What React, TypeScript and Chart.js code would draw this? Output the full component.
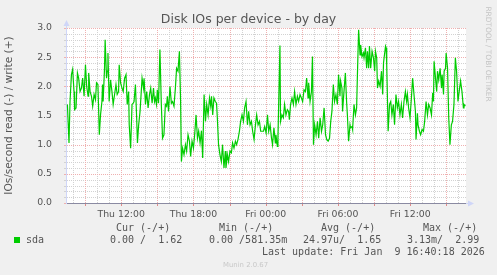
import React, { useEffect, useRef } from 'react';
import { Chart, registerables } from 'chart.js';

Chart.register(...registerables);

// Sample times: minutes since Thu 00:00 (Fri = 1440+)
const sampleMinutes = [
  452, 460, 465, 472, 478, 485, 488, 495, 502, 508, 515, 522, 528, 535, 542, 548, 555, 558, 565, 572,
  578, 585, 592, 597, 604, 611, 617, 624, 627, 630, 637, 640, 647, 650, 654, 660, 667, 674, 680, 687,
  694, 700, 707, 710, 717, 724, 730, 737, 744, 750, 757, 760, 767, 774, 780,
  784, 791, 797, 801, 807, 814, 824, 831, 834, 841, 847, 854, 861, 867, 874, 881, 886, 890, 896, 900,
  906, 913, 920, 926, 933, 940, 946, 950, 956, 963, 970, 976, 983, 990, 996, 1003, 1010, 1016, 1020, 1026,
  1033, 1040, 1046, 1053, 1060, 1066, 1073, 1080, 1086, 1093, 1100, 1106, 1113, 1120, 1126,
  1133, 1140, 1146, 1153, 1160, 1166, 1170, 1176, 1182, 1189, 1195, 1199, 1205, 1212, 1219, 1225, 1232, 1239, 1242, 1249,
  1255, 1262, 1269, 1275, 1282, 1289, 1295, 1302, 1309, 1315, 1322, 1329, 1335, 1342, 1349, 1355, 1362, 1369, 1375, 1382,
  1389, 1395, 1402, 1409, 1415, 1422, 1429, 1435, 1442, 1449, 1455, 1462, 1469, 1474, 1481,
  1488, 1491, 1498, 1501, 1511, 1514, 1521, 1528, 1534, 1541, 1548, 1554, 1558, 1564, 1571, 1578, 1584, 1591, 1598, 1604,
  1611, 1618, 1624, 1631, 1638, 1644, 1651, 1654, 1661, 1668, 1673, 1678, 1684, 1691, 1698, 1704, 1711, 1718, 1724, 1731,
  1738, 1744, 1751, 1758, 1764, 1770, 1777, 1783, 1790, 1797, 1803, 1810, 1813, 1820, 1823, 1830,
  1837, 1843, 1847, 1853, 1860, 1863, 1870, 1873, 1880, 1887, 1893, 1897, 1903, 1910, 1913, 1920, 1927, 1930, 1937, 1943,
  1947, 1953, 1957, 1963, 1970, 1977, 1983, 1987, 1993, 1997, 2003, 2010, 2017, 2023, 2027, 2030, 2037, 2040, 2043, 2050,
  2057, 2063, 2069, 2076, 2082, 2089, 2096, 2102, 2109, 2116, 2122, 2129, 2136, 2142, 2146, 2152, 2159, 2166, 2172,
  2186, 2189, 2196, 2199, 2206, 2212, 2219, 2226, 2232, 2239, 2246, 2252, 2259, 2266, 2272, 2276, 2279, 2286, 2292, 2296,
  2302, 2309, 2316, 2319, 2326, 2329, 2336, 2339, 2346, 2352, 2358, 2365, 2371, 2378, 2385, 2391, 2398, 2405, 2411, 2418,
  2425, 2428, 2435,
];

// sda write IOs/second
const writeIops = [
  1.69, 1.03, 1.74, 2.20, 2.29, 1.91, 1.60, 1.63, 2.23, 2.14, 1.91, 1.97, 2.14, 1.83, 2.37, 2.00, 1.83, 2.23, 1.91, 1.83,
  1.66, 1.86, 1.77, 2.06, 2.03, 1.17, 1.51, 1.74, 2.03, 1.74, 2.31, 2.80, 2.14, 2.26, 2.57, 1.74, 2.11, 1.91, 1.69, 1.86,
  2.03, 1.86, 1.91, 2.37, 2.06, 1.97, 1.91, 2.14, 2.20, 1.69, 1.91, 1.34, 0.94, 1.69, 1.71,
  1.74, 2.03, 1.46, 1.03, 1.34, 1.57, 2.14, 1.97, 2.14, 1.69, 1.91, 1.63, 1.86, 1.97, 1.71, 1.97, 1.74, 1.80, 1.69, 1.94,
  1.71, 2.63, 1.69, 1.11, 1.17, 1.69, 1.66, 1.83, 1.57, 2.00, 1.71, 1.74, 1.66, 1.97, 2.31, 2.26, 2.60, 1.74, 0.71, 0.94,
  0.83, 1.00, 0.89, 1.17, 1.06, 0.80, 1.06, 0.94, 1.17, 1.51, 1.11, 1.23, 1.03, 1.24, 0.77,
  1.86, 1.40, 1.69, 1.51, 1.80, 1.66, 1.83, 1.51, 1.80, 1.74, 1.71, 1.46, 1.00, 0.83, 0.71, 1.00, 0.60, 0.89, 0.60, 0.83,
  0.71, 0.89, 0.86, 1.03, 0.94, 1.06, 1.00, 1.09, 1.23, 1.40, 1.51, 1.40, 1.63, 1.74, 1.34, 1.57, 1.34, 1.40, 1.23, 1.09,
  1.34, 1.51, 1.34, 1.40, 1.23, 1.23, 1.23, 1.31, 1.20, 1.51, 1.23, 1.34, 1.11, 1.00, 1.29,
  1.03, 1.17, 0.97, 1.11, 2.70, 1.40, 1.51, 1.46, 1.69, 1.51, 1.60, 1.57, 1.43, 1.69, 1.80, 1.69, 1.91, 1.69, 1.83, 1.74,
  1.86, 1.80, 1.74, 1.94, 1.91, 2.14, 1.80, 2.06, 1.74, 1.91, 2.51, 1.00, 1.34, 1.17, 1.40, 1.11, 1.46, 1.23, 1.34, 1.63,
  1.17, 1.09, 1.06, 1.11, 1.40, 1.57, 2.03, 1.74, 1.86, 1.69, 2.20, 1.83, 2.09, 1.97, 1.57, 1.91,
  2.23, 1.74, 1.51, 1.06, 1.34, 1.29, 1.31, 1.26, 1.69, 1.51, 1.63, 2.20, 2.97, 2.54, 2.71, 2.51, 2.57, 2.49, 2.66, 2.31,
  2.60, 2.31, 2.69, 2.31, 2.60, 2.49, 2.26, 2.60, 2.49, 1.97, 2.09, 2.00, 2.26, 1.86, 2.40, 2.49, 2.69, 2.66, 2.37, 1.23,
  1.69, 1.74, 1.51, 1.69, 1.34, 1.86, 1.63, 1.74, 1.51, 1.69, 1.46, 1.74, 1.91, 1.74, 1.86, 1.63, 1.46, 1.80, 2.14,
  1.57, 1.09, 1.54, 1.34, 1.23, 1.17, 1.26, 1.23, 1.40, 1.74, 1.51, 1.69, 1.63, 1.51, 1.89, 1.74, 2.43, 2.14, 1.91, 2.26,
  2.11, 2.31, 1.97, 2.20, 1.86, 2.26, 2.31, 2.57, 2.31, 1.46, 1.00, 1.34, 1.40, 1.69, 2.49, 2.26, 1.74, 1.94, 2.09, 1.91,
  1.63, 1.69, 1.66,
];

const rangeStartMin = 445; // Thu 07:25
const rangeEndMin = 2438; // Fri 16:38
const xTickMinutes = [720, 1080, 1440, 1800, 2160];
const xTickLabels = ['Thu 12:00', 'Thu 18:00', 'Fri 00:00', 'Fri 06:00', 'Fri 12:00'];
const yMin = 0;
const yMax = 3;

const titleText = 'Disk IOs per device - by day';
const yAxisLabel = 'IOs/second read (-) / write (+)';
const seriesName = 'sda';
const legendHeaders = ['Cur (-/+)', 'Min (-/+)', 'Avg (-/+)', 'Max (-/+)'];
const legendValues = ['0.00 /  1.62', '0.00 /581.35m', '24.97u/  1.65', '3.13m/  2.99'];
const lastUpdate = 'Last update: Fri Jan  9 16:40:18 2026';
const creditText = 'Munin 2.0.67';
const watermark = 'RRDTOOL / TOBI OETIKER';

const GREEN = '#00CC00';
const FONT_COLOR = '#555555';
const AXIS_COLOR = '#CFD6F8';
const ZERO_LINE = '#8a8aa2';
const GRID = '#d2d2d2';
const MGRID = '#efb0b0';
const SANS = '"DejaVu Sans", sans-serif';
const MONO = '"DejaVu Sans Mono", monospace';

const decorPlugin = {
  id: 'muninDecor',
  beforeDraw(chart: any) {
    const { ctx, chartArea: a, width, height } = chart;
    ctx.save();
    ctx.fillStyle = '#F0F0F0';
    ctx.fillRect(0, 0, width, height);
    ctx.fillStyle = '#FFFFFF';
    ctx.fillRect(a.left, a.top, a.right - a.left, a.bottom - a.top);
    ctx.restore();
  },
  beforeDatasetsDraw(chart: any) {
    const { ctx, chartArea: a } = chart;
    const xs = chart.scales.x;
    const ys = chart.scales.y;
    const L = Math.round(a.left);
    const R = Math.round(a.right);
    const T = Math.round(a.top);
    const B = Math.round(a.bottom);
    ctx.save();
    for (const pass of [false, true]) {
      // horizontal grid: minor 0.1, major 0.5
      for (let k = Math.round(yMin * 10); k <= Math.round(yMax * 10); k++) {
        const major = k % 5 === 0;
        if (major !== pass) continue;
        const py = Math.round(ys.getPixelForValue(k / 10));
        ctx.fillStyle = major ? MGRID : GRID;
        for (let px = L + 1; px < R; px += 2) ctx.fillRect(px, py, 1, 1);
        ctx.fillRect(L - 2, py, 2, 1);
      }
      // vertical grid: minor hourly, major every 3 h
      for (let m = Math.ceil(rangeStartMin / 60) * 60; m <= rangeEndMin; m += 60) {
        const major = m % 180 === 0;
        if (major !== pass) continue;
        const px = Math.round(xs.getPixelForValue(m));
        ctx.fillStyle = major ? MGRID : GRID;
        for (let py = T; py < B; py += 2) ctx.fillRect(px, py, 1, 1);
        if (major) {
          ctx.fillStyle = '#e08a8a';
          ctx.fillRect(px, B + 1, 1, 2);
        }
      }
    }
    // axes
    ctx.fillStyle = AXIS_COLOR;
    ctx.fillRect(L, T - 3, 1, B - T + 4);
    ctx.fillRect(L, B, R - L + 3, 1);
    ctx.fillStyle = ZERO_LINE;
    ctx.fillRect(L + 1, B, R - L - 1, 1);

    // x tick labels
    ctx.fillStyle = FONT_COLOR;
    ctx.font = `9.33px ${SANS}`;
    ctx.textAlign = 'center';
    ctx.textBaseline = 'alphabetic';
    xTickMinutes.forEach((m, i) => {
      ctx.fillText(xTickLabels[i], xs.getPixelForValue(m), 216.6);
    });
    ctx.restore();
  },
  afterDraw(chart: any) {
    const { ctx, chartArea: a } = chart;
    const L = Math.round(a.left);
    const R = Math.round(a.right);
    const T = Math.round(a.top);
    const B = Math.round(a.bottom);
    ctx.save();
    ctx.fillStyle = AXIS_COLOR;
    ctx.beginPath();
    ctx.moveTo(L + 0.5, T - 8);
    ctx.lineTo(L - 2.5, T - 2);
    ctx.lineTo(L + 3.5, T - 2);
    ctx.closePath();
    ctx.fill();
    ctx.beginPath();
    ctx.moveTo(R + 8, B + 0.5);
    ctx.lineTo(R + 2, B - 2.5);
    ctx.lineTo(R + 2, B + 3.5);
    ctx.closePath();
    ctx.fill();

    // title
    ctx.fillStyle = FONT_COLOR;
    ctx.font = `12.5px ${SANS}`;
    ctx.textAlign = 'center';
    ctx.textBaseline = 'alphabetic';
    ctx.fillText(titleText, 248.5, 23.3);

    // vertical axis label
    ctx.save();
    ctx.translate(9.5, (a.top + a.bottom) / 2);
    ctx.rotate(-Math.PI / 2);
    ctx.font = `10.6px ${SANS}`;
    ctx.textBaseline = 'middle';
    ctx.fillText(yAxisLabel, 0, 0);
    ctx.restore();

    // watermark
    ctx.save();
    ctx.translate(487.5, 54);
    ctx.rotate(Math.PI / 2);
    ctx.font = `7.4px ${SANS}`;
    ctx.fillStyle = '#C4C4C4';
    ctx.textBaseline = 'middle';
    ctx.fillText(watermark, 0, 0);
    ctx.restore();

    // legend
    ctx.textAlign = 'left';
    ctx.textBaseline = 'alphabetic';
    ctx.font = `10px ${MONO}`;
    ctx.fillStyle = FONT_COLOR;
    const headerX = [116, 219, 321, 423];
    const valueX = [110, 209, 303, 407];
    legendHeaders.forEach((h, i) => ctx.fillText(h, headerX[i], 230.5));
    legendValues.forEach((v, i) => ctx.fillText(v, valueX[i], 243));
    ctx.fillText(seriesName, 26, 243);
    ctx.fillText(lastUpdate, 262, 255);
    ctx.fillStyle = GREEN;
    ctx.fillRect(14, 237, 6, 6);

    ctx.font = `6.9px ${SANS}`;
    ctx.fillStyle = '#C8C8C8';
    ctx.fillText(creditText, 223, 266.5);
    ctx.restore();
  },
};

export default function App() {
  const canvasRef = useRef<HTMLCanvasElement | null>(null);

  useEffect(() => {
    const canvas = canvasRef.current;
    if (!canvas) return;
    const points = sampleMinutes.map((m, i) => ({ x: m, y: writeIops[i] }));

    const chart = new Chart(canvas, {
      type: 'line',
      data: {
        datasets: [
          {
            label: seriesName,
            data: points,
            borderColor: GREEN,
            borderWidth: 1.2,
            pointRadius: 0,
            fill: false,
            tension: 0,
          },
        ],
      },
      options: {
        animation: false,
        responsive: false,
        devicePixelRatio: 1,
        events: [],
        layout: { padding: { top: 28, left: 0, right: 31, bottom: 0 } },
        plugins: {
          legend: { display: false },
          title: { display: false },
          tooltip: { enabled: false },
        },
        scales: {
          x: {
            type: 'linear',
            min: rangeStartMin,
            max: rangeEndMin,
            afterBuildTicks: (scale: any) => {
              scale.ticks = xTickMinutes.map((m) => ({ value: m }));
            },
            afterFit: (scale: any) => {
              scale.height = 72;
            },
            ticks: { display: false },
            grid: { display: false },
            border: { display: false },
          },
          y: {
            type: 'linear',
            min: yMin,
            max: yMax,
            afterBuildTicks: (scale: any) => {
              const t = [];
              for (let k = 0; k <= 6; k++) t.push({ value: k / 2 });
              scale.ticks = t;
            },
            afterFit: (scale: any) => {
              scale.width = 66;
            },
            ticks: {
              autoSkip: false,
              padding: 6,
              color: FONT_COLOR,
              font: { family: SANS, size: 9.33 },
              callback: (value: any) => Number(value).toFixed(1),
            },
            grid: { display: false },
            border: { display: false },
          },
        },
      },
      plugins: [decorPlugin],
    } as any);

    return () => chart.destroy();
  }, []);

  return (
    <div style={{ position: 'fixed', left: 0, top: 0, width: 497, height: 275, background: '#F0F0F0' }}>
      <canvas ref={canvasRef} width={497} height={275} style={{ display: 'block', width: 497, height: 275 }} />
    </div>
  );
}
